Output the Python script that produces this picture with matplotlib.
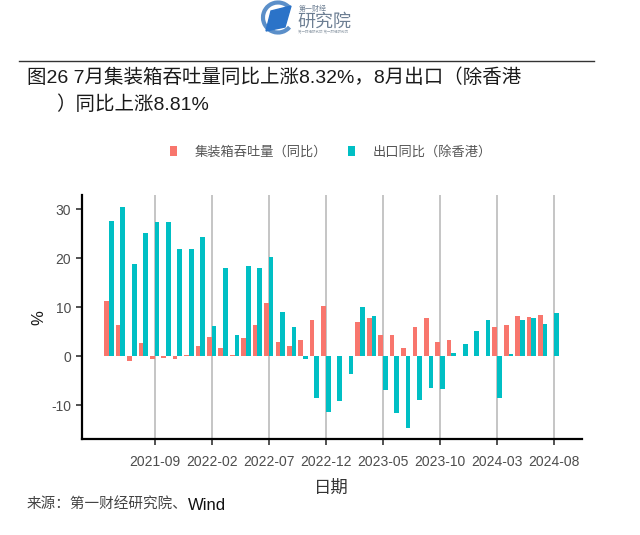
import numpy as np
import pandas as pd
import matplotlib
matplotlib.use('Agg')
import matplotlib.pyplot as plt
from matplotlib.patches import Arc, Polygon

plt.rcParams['font.family'] = ['Liberation Sans', 'Noto Sans CJK SC', 'DejaVu Sans']
plt.rcParams['axes.unicode_minus'] = False

# monthly data, 2021-05 .. 2024-08
months = pd.period_range('2021-05', '2024-08', freq='M')
container_yoy = [11.3, 6.3, -1.0, 2.6, -0.6, -0.4, -0.5, 0.3,
                 2.0, 4.0, 1.6, 0.3, 3.7, 6.3, 10.8, 2.8, 2.1, 3.3, 7.4, 10.3,
                 np.nan, np.nan, 6.9, 7.7, 4.4, 4.3, 1.7, 6.0, 7.8, 2.8, 3.3, np.nan,
                 np.nan, np.nan, 5.9, 6.3, 8.1, 8.0, 8.32, np.nan]
export_yoy = [27.5, 30.5, 18.8, 25.2, 27.4, 27.3, 21.8, 21.8,
              24.3, 6.2, 18.0, 4.3, 18.3, 17.9, 20.3, 8.9, 5.9, -0.5, -8.5, -11.4,
              -9.1, -3.7, 10.0, 8.1, -6.9, -11.5, -14.6, -8.9, -6.5, -6.7, 0.6, 2.5,
              5.2, 7.4, -8.5, 0.5, 7.3, 7.8, 6.6, 8.81]
series_names = ['集装箱吞吐量（同比）', '出口同比（除香港）']
colors = ['#F8766D', '#00BFC4']
tick_months = ['2021-09', '2022-02', '2022-07', '2022-12',
               '2023-05', '2023-10', '2024-03', '2024-08']

W, H = 640, 535
fig = plt.figure(figsize=(W / 100, H / 100), dpi=100)

# header decorations (pixel coords)
deco = fig.add_axes([0, 0, 1, 1])
deco.set_xlim(0, W)
deco.set_ylim(H, 0)
deco.axis('off')
deco.plot([19, 594], [60.7, 60.7], color='#333333', lw=1)
deco.add_patch(Arc((278, 17.5), 30, 30, theta1=40, theta2=320, lw=3, color='#5b8fc9'))
deco.add_patch(Polygon([(271, 11), (291, 6), (285, 27), (266, 31)], closed=True, color='#2b73c8'))
deco.text(299, 9, '第一财经', fontsize=5, color='#6d7f93', va='center')
deco.text(297, 22, '研究院', fontsize=13, color='#6d7f93', va='center')
deco.text(298, 32, '第一财经研究院 第一财经研究院', fontsize=2.5, color='#9aa5b0', va='center')

fig.text(27 / W, 1 - 78 / H, '图26 7月集装箱吞吐量同比上涨8.32%，8月出口（除香港',
         fontsize=14, color='#1a1a1a', va='center', ha='left')
fig.text(56 / W, 1 - 105 / H, '）同比上涨8.81%',
         fontsize=14, color='#1a1a1a', va='center', ha='left')

# main panel
left, right, top, bottom = 81.6, 581.6, 195.3, 439
ax = fig.add_axes([left / W, 1 - bottom / H, (right - left) / W, (bottom - top) / H])

x = np.arange(len(months))
w = 0.41
b1 = ax.bar(x - w / 2, container_yoy, width=w, color=colors[0], label=series_names[0], zorder=3)
b2 = ax.bar(x + w / 2, export_yoy, width=w, color=colors[1], label=series_names[1], zorder=3)

labels = [str(m) for m in months]
tick_idx = [labels.index(t) for t in tick_months]
ax.set_xticks(tick_idx)
ax.set_xticklabels(tick_months)
ax.set_xlim(-2.4, 41.4)
ax.set_ylim(-16.9, 32.8)
ax.set_yticks([-10, 0, 10, 20, 30])
ax.grid(axis='x', color='#b5b5b5', lw=1.1, zorder=0)

for s in ['top', 'right']:
    ax.spines[s].set_visible(False)
for s in ['left', 'bottom']:
    ax.spines[s].set_linewidth(1.6)
    ax.spines[s].set_color('black')
ax.tick_params(axis='both', labelsize=10, labelcolor='#4d4d4d', length=4, width=1.2, color='#333333')
ax.tick_params(axis='x', pad=7.5)

ax.set_xlabel('日期', fontsize=12.5, color='#333333', labelpad=8)
ax.set_ylabel('%', fontsize=12, color='#1a1a1a', labelpad=3.5)

fig.legend(handles=[b1, b2], loc='center', bbox_to_anchor=(331 / W, 1 - 152 / H),
           ncol=2, frameon=False, labelcolor='#555555',
           handlelength=0.55, handleheight=0.75, handletextpad=1.3, columnspacing=1.6,
           prop={'family': ['Noto Sans CJK SC'], 'size': 9.5})

# source line
src = fig.text(27 / W, 1 - 505 / H, '来源：第一财经研究院、', fontsize=10.5,
               color='#444444', va='center', ha='left', family=['Noto Sans CJK SC'])
fig.canvas.draw()
bb = src.get_window_extent()
fig.text(bb.x1 / W, 1 - 505 / H, 'Wind', fontsize=12, color='#111111', va='center', ha='left')

plt.savefig('out.png', dpi=100)
plt.close()
